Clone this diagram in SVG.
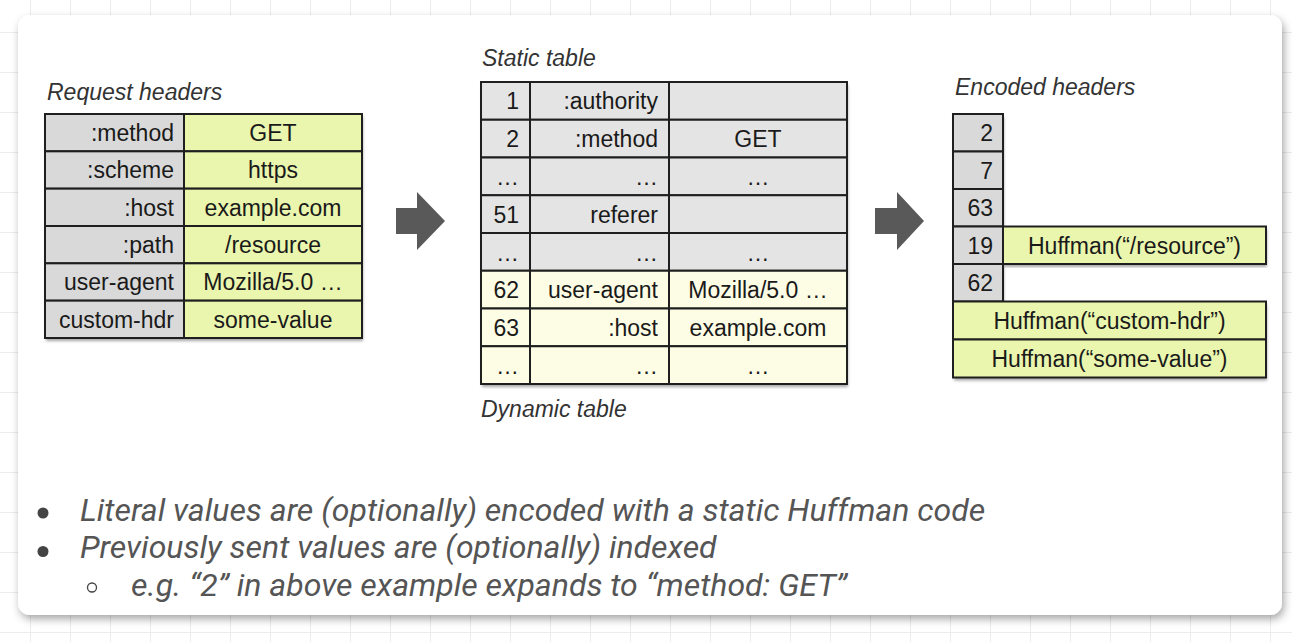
<svg xmlns="http://www.w3.org/2000/svg" width="1292" height="642" viewBox="0 0 1292 642">
  <defs>
    <pattern id="grid" x="30" y="32" width="40" height="40" patternUnits="userSpaceOnUse">
      <path d="M0 0.5 H40 M0.5 0 V40" fill="none" stroke="#ececec" stroke-width="1"/>
    </pattern>
    <filter id="cardShadow" x="-5%" y="-5%" width="110%" height="115%">
      <feDropShadow dx="2" dy="4" stdDeviation="4" flood-color="#000" flood-opacity="0.35"/>
    </filter>
    <filter id="tblShadow" x="-5%" y="-5%" width="110%" height="115%">
      <feDropShadow dx="1" dy="3" stdDeviation="1.8" flood-color="#000" flood-opacity="0.35"/>
    </filter>
  </defs>
  <style>
    .cell { font-family: "Liberation Sans", Arial, Helvetica, sans-serif; font-size: 23px; fill: #1a1a1a; }
    .r { text-anchor: end; }
    .c { text-anchor: middle; }
    .title { font-family: "Liberation Sans", Arial, Helvetica, sans-serif; font-size: 23px; font-style: italic; fill: #333; }
    .bul { font-family: Roboto, "Liberation Sans", sans-serif; font-size: 32px; font-style: italic; fill: #555; }
    .k { fill: #d9d9d9; stroke: #1f1f1f; stroke-width: 2; }
    .v { fill: #eaf6ae; stroke: #1f1f1f; stroke-width: 2; }
    .s { fill: #e4e4e4; stroke: #1f1f1f; stroke-width: 2; }
    .d { fill: #fdfde6; stroke: #1f1f1f; stroke-width: 2; }
    .sh { fill: #fff; filter: url(#tblShadow); }
    .arrow { fill: #595959; }
  </style>

  <rect x="0" y="0" width="1292" height="642" fill="#ffffff"/>
  <rect x="0" y="0" width="1292" height="642" fill="url(#grid)"/>

  <g id="card">
    <rect x="18" y="15" width="1264" height="600" rx="12" ry="12" fill="#ffffff" filter="url(#cardShadow)"/>
  </g>

  <g id="request-headers">
    <text class="title" x="47" y="100">Request headers</text>
    <rect class="sh" x="45" y="114" width="317" height="224"/>
    <g id="rh-method">
      <rect class="k" x="45" y="114" width="139" height="37.33"/>
      <rect class="v" x="184" y="114" width="178" height="37.33"/>
      <text class="cell r" x="174" y="141">:method</text>
      <text class="cell c" x="273" y="141">GET</text>
    </g>
    <g id="rh-scheme">
      <rect class="k" x="45" y="151.33" width="139" height="37.33"/>
      <rect class="v" x="184" y="151.33" width="178" height="37.33"/>
      <text class="cell r" x="174" y="178.3">:scheme</text>
      <text class="cell c" x="273" y="178.3">https</text>
    </g>
    <g id="rh-host">
      <rect class="k" x="45" y="188.67" width="139" height="37.33"/>
      <rect class="v" x="184" y="188.67" width="178" height="37.33"/>
      <text class="cell r" x="174" y="215.7">:host</text>
      <text class="cell c" x="273" y="215.7">example.com</text>
    </g>
    <g id="rh-path">
      <rect class="k" x="45" y="226" width="139" height="37.33"/>
      <rect class="v" x="184" y="226" width="178" height="37.33"/>
      <text class="cell r" x="174" y="253">:path</text>
      <text class="cell c" x="273" y="253">/resource</text>
    </g>
    <g id="rh-user-agent">
      <rect class="k" x="45" y="263.33" width="139" height="37.33"/>
      <rect class="v" x="184" y="263.33" width="178" height="37.33"/>
      <text class="cell r" x="174" y="290.3">user-agent</text>
      <text class="cell c" x="273" y="290.3">Mozilla/5.0 …</text>
    </g>
    <g id="rh-custom-hdr">
      <rect class="k" x="45" y="300.67" width="139" height="37.33"/>
      <rect class="v" x="184" y="300.67" width="178" height="37.33"/>
      <text class="cell r" x="174" y="327.7">custom-hdr</text>
      <text class="cell c" x="273" y="327.7">some-value</text>
    </g>
  </g>

  <g id="index-tables">
    <text class="title" x="482" y="66">Static table</text>
    <text class="title" x="481" y="417">Dynamic table</text>
    <rect class="sh" x="481" y="82" width="366" height="302"/>
    <g id="st-1">
      <rect class="s" x="481" y="82" width="49" height="37.75"/>
      <rect class="s" x="530" y="82" width="139" height="37.75"/>
      <rect class="s" x="669" y="82" width="178" height="37.75"/>
      <text class="cell r" x="519" y="109.3">1</text>
      <text class="cell r" x="658" y="109.3">:authority</text>
    </g>
    <g id="st-2">
      <rect class="s" x="481" y="119.75" width="49" height="37.75"/>
      <rect class="s" x="530" y="119.75" width="139" height="37.75"/>
      <rect class="s" x="669" y="119.75" width="178" height="37.75"/>
      <text class="cell r" x="519" y="147">2</text>
      <text class="cell r" x="658" y="147">:method</text>
      <text class="cell c" x="758" y="147">GET</text>
    </g>
    <g id="st-gap1">
      <rect class="s" x="481" y="157.5" width="49" height="37.75"/>
      <rect class="s" x="530" y="157.5" width="139" height="37.75"/>
      <rect class="s" x="669" y="157.5" width="178" height="37.75"/>
      <text class="cell r" x="519" y="185">…</text>
      <text class="cell r" x="658" y="185">…</text>
      <text class="cell c" x="758" y="185">…</text>
    </g>
    <g id="st-51">
      <rect class="s" x="481" y="195.25" width="49" height="37.75"/>
      <rect class="s" x="530" y="195.25" width="139" height="37.75"/>
      <rect class="s" x="669" y="195.25" width="178" height="37.75"/>
      <text class="cell r" x="519" y="222.5">51</text>
      <text class="cell r" x="658" y="222.5">referer</text>
    </g>
    <g id="st-gap2">
      <rect class="s" x="481" y="233" width="49" height="37.75"/>
      <rect class="s" x="530" y="233" width="139" height="37.75"/>
      <rect class="s" x="669" y="233" width="178" height="37.75"/>
      <text class="cell r" x="519" y="260.5">…</text>
      <text class="cell r" x="658" y="260.5">…</text>
      <text class="cell c" x="758" y="260.5">…</text>
    </g>
    <g id="dt-62">
      <rect class="d" x="481" y="270.75" width="49" height="37.75"/>
      <rect class="d" x="530" y="270.75" width="139" height="37.75"/>
      <rect class="d" x="669" y="270.75" width="178" height="37.75"/>
      <text class="cell r" x="519" y="298">62</text>
      <text class="cell r" x="658" y="298">user-agent</text>
      <text class="cell c" x="758" y="298">Mozilla/5.0 …</text>
    </g>
    <g id="dt-63">
      <rect class="d" x="481" y="308.5" width="49" height="37.75"/>
      <rect class="d" x="530" y="308.5" width="139" height="37.75"/>
      <rect class="d" x="669" y="308.5" width="178" height="37.75"/>
      <text class="cell r" x="519" y="335.8">63</text>
      <text class="cell r" x="658" y="335.8">:host</text>
      <text class="cell c" x="758" y="335.8">example.com</text>
    </g>
    <g id="dt-gap">
      <rect class="d" x="481" y="346.25" width="49" height="37.75"/>
      <rect class="d" x="530" y="346.25" width="139" height="37.75"/>
      <rect class="d" x="669" y="346.25" width="178" height="37.75"/>
      <text class="cell r" x="519" y="374">…</text>
      <text class="cell r" x="658" y="374">…</text>
      <text class="cell c" x="758" y="374">…</text>
    </g>
  </g>

  <g id="encoded-headers">
    <text class="title" x="955" y="95">Encoded headers</text>
    <rect class="sh" x="953" y="114" width="50" height="187.5"/>
    <rect class="sh" x="1003" y="226.5" width="263" height="37.5"/>
    <rect class="sh" x="953" y="301.5" width="313" height="76"/>
    <g id="enc-2">
      <rect class="k" x="953" y="114" width="50" height="37.5"/>
      <text class="cell r" x="993" y="141">2</text>
    </g>
    <g id="enc-7">
      <rect class="k" x="953" y="151.5" width="50" height="37.5"/>
      <text class="cell r" x="993" y="178.5">7</text>
    </g>
    <g id="enc-63">
      <rect class="k" x="953" y="189" width="50" height="37.5"/>
      <text class="cell r" x="993" y="216">63</text>
    </g>
    <g id="enc-19">
      <rect class="k" x="953" y="226.5" width="50" height="37.5"/>
      <rect class="v" x="1003" y="226.5" width="263" height="37.5"/>
      <text class="cell r" x="993" y="253.5">19</text>
      <text class="cell c" x="1134.5" y="253.5">Huffman(“/resource”)</text>
    </g>
    <g id="enc-62">
      <rect class="k" x="953" y="264" width="50" height="37.5"/>
      <text class="cell r" x="993" y="291">62</text>
    </g>
    <g id="enc-custom-hdr">
      <rect class="v" x="953" y="301.5" width="313" height="38"/>
      <text class="cell c" x="1109.5" y="328.7">Huffman(“custom-hdr”)</text>
    </g>
    <g id="enc-some-value">
      <rect class="v" x="953" y="339.5" width="313" height="38"/>
      <text class="cell c" x="1109.5" y="366.7">Huffman(“some-value”)</text>
    </g>
  </g>

  <g id="connectors">
    <polygon class="arrow" points="396,208 417,208 417,192 445,221 417,250 417,234 396,234"/>
    <polygon class="arrow" points="875,208 897,208 897,192 924,221 897,250 897,234 875,234"/>
  </g>

  <g id="notes">
    <circle cx="43" cy="513" r="5.5" fill="#444"/>
    <text class="bul" x="80" y="520.5">Literal values are (optionally) encoded with a static Huffman code</text>
    <circle cx="43" cy="551.5" r="5.5" fill="#444"/>
    <text class="bul" x="80" y="558.3">Previously sent values are (optionally) indexed</text>
    <circle cx="92" cy="587.5" r="4.5" fill="none" stroke="#444" stroke-width="1.3"/>
    <text class="bul" x="131" y="596.3">e.g. “2” in above example expands to “method: GET”</text>
  </g>
</svg>
